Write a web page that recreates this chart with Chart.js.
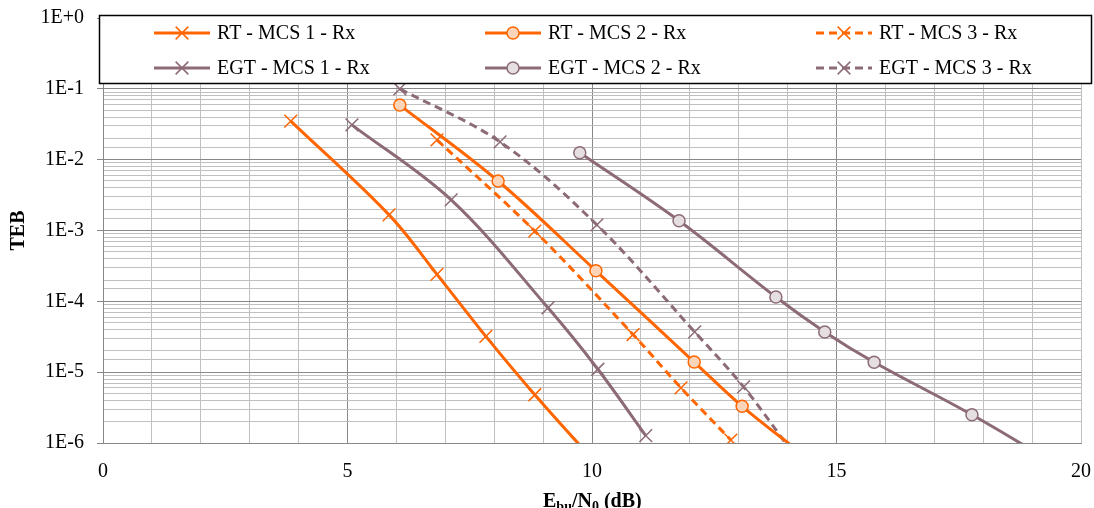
<!DOCTYPE html>
<html>
<head>
<meta charset="utf-8">
<script src="https://cdn.jsdelivr.net/npm/chart.js@4/dist/chart.umd.min.js"></script>
<style>
  html, body { margin: 0; background: #fff; }
  #wrap { width: 1094px; height: 508px; }
</style>
</head>
<body>
<div id="wrap"><canvas id="berChart"></canvas></div>
<script>
// Valeurs (Eb/N0 en dB, TEB)
const seriesNames = ['RT - MCS 1 - Rx', 'RT - MCS 2 - Rx', 'RT - MCS 3 - Rx',
                     'EGT - MCS 1 - Rx', 'EGT - MCS 2 - Rx', 'EGT - MCS 3 - Rx'];

const rtMcs1X = [3.84, 5.85, 6.83, 7.83, 8.83, 10.0];
const rtMcs1Y = [3.5e-2, 1.66e-3, 2.4e-4, 3.2e-5, 4.8e-6, 6e-7];

const rtMcs2X = [6.07, 8.08, 10.08, 12.09, 13.07, 14.3];
const rtMcs2Y = [5.9e-2, 5.0e-3, 2.7e-4, 1.39e-5, 3.3e-6, 7e-7];

const rtMcs3X = [6.83, 8.83, 10.84, 11.82, 12.84];
const rtMcs3Y = [1.9e-2, 9.8e-4, 3.4e-5, 6.0e-6, 1.1e-6];

const egtMcs1X = [5.09, 7.12, 9.10, 10.12, 11.10];
const egtMcs1Y = [3.1e-2, 2.7e-3, 8.1e-5, 1.1e-5, 1.27e-6];

const egtMcs2X = [9.75, 11.78, 13.76, 14.76, 15.77, 17.77, 19.77];
const egtMcs2Y = [1.25e-2, 1.37e-3, 1.15e-4, 3.7e-5, 1.38e-5, 2.5e-6, 3.8e-7];

const egtMcs3X = [6.07, 8.12, 10.1, 12.1, 13.1, 14.12];
const egtMcs3Y = [1.0e-1, 1.78e-2, 1.2e-3, 3.7e-5, 6.2e-6, 7e-7];

const xTickLabels = ['0', '5', '10', '15', '20'];
const yTickLabels = ['1E-6', '1E-5', '1E-4', '1E-3', '1E-2', '1E-1', '1E+0'];

const ORANGE = '#ff6600';
const MAUVE = '#8c6b76';
const FONT = "'Liberation Serif', 'Times New Roman', serif";

Chart.defaults.font.family = FONT;
Chart.defaults.color = '#000';

function toPoints(xs, ys) {
  return xs.map((x, i) => ({ x: x, y: ys[i] }));
}

function decadeIndex(v) {
  const e = Math.log10(v);
  const r = Math.round(e);
  return Math.abs(e - r) < 1e-6 ? r + 6 : -1;
}

function makeSet(i, xs, ys, color, style, fill, dashed) {
  return {
    label: seriesNames[i],
    data: toPoints(xs, ys),
    borderColor: color,
    backgroundColor: fill,
    borderWidth: 3,
    borderDash: dashed ? [8, 5] : [],
    tension: 0.35,
    pointStyle: style,
    pointRadius: style === 'crossRot' ? 9 : 6,
    pointBorderWidth: 1.5,
    pointBorderColor: color,
    pointBackgroundColor: fill
  };
}

const datasets = [
  makeSet(0, rtMcs1X, rtMcs1Y, ORANGE, 'crossRot', ORANGE, false),
  makeSet(1, rtMcs2X, rtMcs2Y, ORANGE, 'circle', '#fcd5b8', false),
  makeSet(2, rtMcs3X, rtMcs3Y, ORANGE, 'crossRot', ORANGE, true),
  makeSet(3, egtMcs1X, egtMcs1Y, MAUVE, 'crossRot', MAUVE, false),
  makeSet(4, egtMcs2X, egtMcs2Y, MAUVE, 'circle', '#e6dfe2', false),
  makeSet(5, egtMcs3X, egtMcs3Y, MAUVE, 'crossRot', MAUVE, true)
];

// Légende encadrée dans la zone du graphique
const boxLegend = {
  id: 'boxLegend',
  afterDraw(chart) {
    const ctx = chart.ctx;
    ctx.save();
    ctx.fillStyle = '#fff';
    ctx.fillRect(99, 15, 993, 68);
    ctx.strokeStyle = '#000';
    ctx.lineWidth = 1.5;
    ctx.strokeRect(99.5, 15.5, 992, 68);

    const cols = [154, 485, 816];
    const rows = [33, 68];
    chart.data.datasets.forEach((ds, i) => {
      const x0 = cols[i % 3];
      const y = rows[Math.floor(i / 3)];
      const x1 = x0 + 56;
      const mid = (x0 + x1) / 2;
      ctx.strokeStyle = ds.borderColor;
      ctx.lineWidth = 3;
      ctx.setLineDash(ds.borderDash);
      ctx.beginPath();
      ctx.moveTo(x0, y);
      ctx.lineTo(x1, y);
      ctx.stroke();
      ctx.setLineDash([]);
      ctx.lineWidth = 1.5;
      if (ds.pointStyle === 'circle') {
        ctx.fillStyle = ds.pointBackgroundColor;
        ctx.beginPath();
        ctx.arc(mid, y, 6, 0, Math.PI * 2);
        ctx.fill();
        ctx.stroke();
      } else {
        const r = 9 * Math.SQRT1_2;
        ctx.beginPath();
        ctx.moveTo(mid - r, y - r); ctx.lineTo(mid + r, y + r);
        ctx.moveTo(mid + r, y - r); ctx.lineTo(mid - r, y + r);
        ctx.stroke();
      }
      ctx.fillStyle = '#000';
      ctx.font = '20px ' + FONT;
      ctx.textBaseline = 'middle';
      ctx.textAlign = 'left';
      ctx.fillText(ds.label, x0 + 63, y + 1);
    });

    // Titre de l'axe X avec indices
    let x = 543;
    const yb = 507;
    const parts = [['E', 20, 0], ['bu', 14, 4], ['/N', 20, 0], ['0', 14, 4], [' (dB)', 20, 0]];
    ctx.textBaseline = 'alphabetic';
    parts.forEach(p => {
      ctx.font = 'bold ' + p[1] + 'px ' + FONT;
      ctx.fillText(p[0], x, yb + p[2]);
      x += ctx.measureText(p[0]).width;
    });
    ctx.restore();
  }
};

new Chart(document.getElementById('berChart'), {
  type: 'line',
  data: { datasets: datasets },
  plugins: [boxLegend],
  options: {
    responsive: true,
    maintainAspectRatio: false,
    animation: false,
    layout: { padding: { top: 18, right: 13, left: 0, bottom: 0 } },
    plugins: { legend: { display: false }, tooltip: { enabled: false } },
    scales: {
      x: {
        type: 'linear',
        min: 0,
        max: 20,
        afterFit: s => { s.height = 65; s.paddingLeft = 0; s.paddingRight = 0; },
        ticks: {
          stepSize: 1,
          autoSkip: false,
          maxRotation: 0,
          padding: 17,
          font: { size: 20 },
          callback: v => (v % 5 === 0 ? xTickLabels[v / 5] : '')
        },
        grid: {
          drawTicks: false,
          color: c => (c.tick && c.tick.value % 5 === 0 && c.tick.value !== 20 ? '#888888' : '#c0c0c0')
        },
        border: { color: '#888888' }
      },
      y: {
        type: 'logarithmic',
        min: 1e-6,
        max: 1,
        afterFit: s => { s.width = 103; s.paddingTop = 0; s.paddingBottom = 0; },
        title: {
          display: true,
          text: 'TEB',
          font: { size: 20, weight: 'bold' },
          padding: { top: 7, bottom: 0 }
        },
        ticks: {
          autoSkip: false,
          padding: 13,
          font: { size: 20 },
          callback: v => {
            const k = decadeIndex(v);
            return k >= 0 ? yTickLabels[k] : '';
          }
        },
        grid: {
          tickLength: 6,
          color: c => (c.tick && decadeIndex(c.tick.value) >= 0 ? '#888888' : '#c0c0c0'),
          tickColor: c => (c.tick && decadeIndex(c.tick.value) >= 0 ? '#888888' : 'rgba(0,0,0,0)')
        },
        border: { color: '#888888' }
      }
    }
  }
});
</script>
</body>
</html>
